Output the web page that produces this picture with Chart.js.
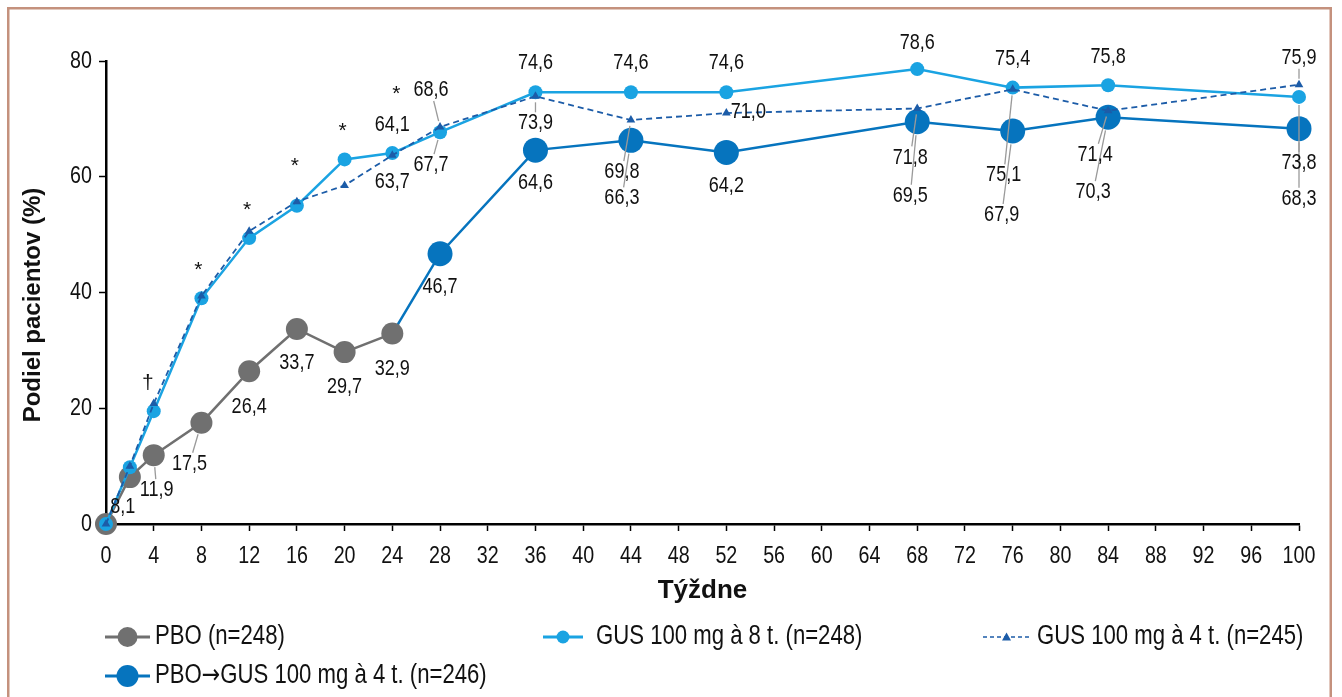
<!DOCTYPE html>
<html lang="sk">
<head>
<meta charset="utf-8">
<title>Podiel pacientov</title>
<script src="https://cdn.jsdelivr.net/npm/chart.js@4.4.1/dist/chart.umd.min.js"></script>
<style>
  html, body { margin: 0; padding: 0; background: #ffffff; }
  #wrap { position: relative; width: 1342px; height: 697px; }
  canvas { display: block; }
</style>
</head>
<body>
<div id="wrap"><canvas id="chart" width="1342" height="697"></canvas></div>
<script>
// ---- data -------------------------------------------------------------
const weekTicks = [0, 4, 8, 12, 16, 20, 24, 28, 32, 36, 40, 44, 48, 52, 56, 60, 64, 68, 72, 76, 80, 84, 88, 92, 96, 100];
const valueTicks = [0, 20, 40, 60, 80];

const pboWeeks = [0, 2, 4, 8, 12, 16, 20, 24];
const pboValues = [0, 8.1, 11.9, 17.5, 26.4, 33.7, 29.7, 32.9];

const switchWeeks = [24, 28, 36, 44, 52, 68, 76, 84, 100];
const switchValues = [32.9, 46.7, 64.6, 66.3, 64.2, 69.5, 67.9, 70.3, 68.3];

const gusWeeks = [0, 2, 4, 8, 12, 16, 20, 24, 28, 36, 44, 52, 68, 76, 84, 100];
const gusQ8Values = [0, 9.8, 19.5, 39.0, 49.4, 55.0, 63.0, 64.1, 67.7, 74.6, 74.6, 74.6, 78.6, 75.4, 75.8, 73.8];
const gusQ4Values = [0, 10.0, 20.8, 39.4, 50.6, 55.7, 58.5, 63.7, 68.6, 73.9, 69.8, 71.0, 71.8, 75.1, 71.4, 75.9];

const seriesNames = ['PBO (n=248)', 'GUS 100 mg à 8 t. (n=248)', 'GUS 100 mg à 4 t. (n=245)', 'PBO\u2192GUS 100 mg à 4 t. (n=246)'];

// significance symbols shown above the q8w curve
const sigWeeks = [4, 8, 12, 16, 20, 24];
const sigSymbols = ['\u2020', '*', '*', '*', '*', '*'];

// ---- look -------------------------------------------------------------
const COL_PBO = '#707070';
const COL_Q8 = '#1aa3e2';
const COL_Q4 = '#1c5ca8';
const COL_SW = '#0674be';
const TEXT = '#111111';
const SANS = "'Liberation Sans', Arial, sans-serif";
const ARROW_FONT = "'DejaVu Sans', sans-serif";
const CONDENSE = 0.82;   // horizontal squeeze giving a narrow face

// where each value label sits relative to its mark (px); leader = thin grey guide line
const labelSpots = [
  { set: 0, i: 1, dx: -7, dy: 30 }, { set: 0, i: 2, dx: 3, dy: 35, leader: true },
  { set: 0, i: 3, dx: -12, dy: 41, leader: true }, { set: 0, i: 4, dx: 0, dy: 36 },
  { set: 0, i: 5, dx: 0, dy: 34 }, { set: 0, i: 6, dx: 0, dy: 35 }, { set: 0, i: 7, dx: 0, dy: 35 },

  { set: 3, i: 1, dx: 0, dy: 33 }, { set: 3, i: 2, dx: 0, dy: 33 },
  { set: 3, i: 3, dx: -9, dy: 58, leader: true }, { set: 3, i: 4, dx: 0, dy: 33 },
  { set: 3, i: 5, dx: -7, dy: 74, leader: true }, { set: 3, i: 6, dx: -11, dy: 84, leader: true },
  { set: 3, i: 7, dx: -15, dy: 75, leader: true }, { set: 3, i: 8, dx: 0, dy: 70, leader: true },

  { set: 1, i: 7, dx: 0, dy: -28 }, { set: 1, i: 8, dx: -9, dy: 33, leader: true },
  { set: 1, i: 9, dx: 0, dy: -29 }, { set: 1, i: 10, dx: 0, dy: -29 }, { set: 1, i: 11, dx: 0, dy: -29 },
  { set: 1, i: 12, dx: 0, dy: -26 }, { set: 1, i: 13, dx: 0, dy: -29 }, { set: 1, i: 14, dx: 0, dy: -28 },
  { set: 1, i: 15, dx: 0, dy: 66, leader: true },

  { set: 2, i: 7, dx: 0, dy: 27 }, { set: 2, i: 8, dx: -9, dy: -37, leader: true },
  { set: 2, i: 9, dx: 0, dy: 27, leader: true }, { set: 2, i: 10, dx: -9, dy: 52, leader: true },
  { set: 2, i: 11, dx: 22, dy: -1 }, { set: 2, i: 12, dx: -7, dy: 49, leader: true },
  { set: 2, i: 13, dx: -9, dy: 86, leader: true }, { set: 2, i: 14, dx: -13, dy: 44, leader: true },
  { set: 2, i: 15, dx: 0, dy: -27, leader: true }
];
// baseline offsets of the significance symbols from the q8w marks
const sigOffsets = [[-6, -22], [-3, -22], [-2, -22], [-2, -34], [-2, -22], [4, -53]];

const toPoints = (xs, ys) => xs.map((x, k) => ({ x: x, y: ys[k] }));
const fmt = v => v.toFixed(1).replace('.', ',');

// text in a narrow face: the normal sans squeezed horizontally around its anchor
function narrowText(ctx, txt, x, y) {
  ctx.save();
  ctx.translate(x, y);
  ctx.scale(CONDENSE, 1);
  ctx.fillText(txt, 0, 0);
  ctx.restore();
}

// left-aligned narrow text whose arrow glyphs come from a face with a full-size arrow
function narrowTextWithArrow(ctx, txt, x, y, size) {
  ctx.save();
  ctx.translate(x, y);
  ctx.scale(CONDENSE, 1);
  ctx.textAlign = 'left';
  let cx = 0;
  txt.split(/(\u2192)/).forEach(part => {
    if (!part) return;
    ctx.font = (part === '\u2192' ? size + 'px ' + ARROW_FONT : size + 'px ' + SANS);
    ctx.fillText(part, cx, 0);
    cx += ctx.measureText(part).width;
  });
  ctx.restore();
}

// frame around the figure
const framePlugin = {
  id: 'frame',
  beforeDraw(chart) {
    const ctx = chart.ctx;
    ctx.save();
    ctx.fillStyle = '#ffffff';
    ctx.fillRect(0, 0, chart.width, chart.height);
    ctx.strokeStyle = '#c4917d';
    ctx.lineWidth = 2.5;
    ctx.strokeRect(8.25, 8.25, 1322.5, 720);
    ctx.restore();
  }
};

// tick labels of both axes
const tickLabelPlugin = {
  id: 'tickLabels',
  afterDraw(chart) {
    const ctx = chart.ctx;
    const xs = chart.scales.x, ys = chart.scales.y;
    ctx.save();
    ctx.fillStyle = TEXT;
    ctx.font = '24px ' + SANS;
    ctx.textBaseline = 'middle';
    ctx.textAlign = 'center';
    weekTicks.forEach(v => narrowText(ctx, String(v), xs.getPixelForValue(v), 556));
    ctx.textAlign = 'right';
    valueTicks.forEach(v => narrowText(ctx, String(v), 92, ys.getPixelForValue(v)));
    ctx.restore();
  }
};

// value labels, leader lines and significance symbols
const labelPlugin = {
  id: 'valueLabels',
  afterDatasetsDraw(chart) {
    const ctx = chart.ctx;
    ctx.save();
    ctx.font = '22px ' + SANS;
    ctx.textAlign = 'center';
    ctx.textBaseline = 'middle';
    labelSpots.forEach(s => {
      const ds = chart.data.datasets[s.set];
      const el = chart.getDatasetMeta(s.set).data[s.i];
      const v = ds.data[s.i].y;
      const px = el.x, py = el.y;
      const tx = px + s.dx, ty = py + s.dy;
      const txt = fmt(v);
      if (s.leader) {
        const w = ctx.measureText(txt).width * CONDENSE / 2 + 2;
        const h = 11;
        const ddx = tx - px, ddy = ty - py;
        const len = Math.hypot(ddx, ddy);
        const ux = ddx / len, uy = ddy / len;
        const r = (ds.pointRadius instanceof Array ? ds.pointRadius[s.i] : ds.pointRadius) + 1;
        const tEdge = Math.min(Math.abs(uy) > 1e-6 ? h / Math.abs(uy) : 1e9, Math.abs(ux) > 1e-6 ? w / Math.abs(ux) : 1e9);
        const sx = px + ux * r, sy = py + uy * r;
        const ex = tx - ux * tEdge, ey = ty - uy * tEdge;
        if (len - tEdge > r + 2) {
          ctx.strokeStyle = '#9a9a9a';
          ctx.lineWidth = 1.3;
          ctx.beginPath();
          ctx.moveTo(sx, sy);
          ctx.lineTo(ex, ey);
          ctx.stroke();
        }
      }
      ctx.fillStyle = TEXT;
      narrowText(ctx, txt, tx, ty);
    });

    ctx.font = '21px ' + SANS;
    ctx.textBaseline = 'alphabetic';
    ctx.fillStyle = TEXT;
    const q8meta = chart.getDatasetMeta(1);
    sigWeeks.forEach((w, k) => {
      const el = q8meta.data[gusWeeks.indexOf(w)];
      ctx.fillText(sigSymbols[k], el.x + sigOffsets[k][0], el.y + sigOffsets[k][1]);
    });
    ctx.restore();
  },
  afterDraw(chart) {
    const ctx = chart.ctx;
    const area = chart.chartArea;
    ctx.save();
    // axis titles
    ctx.fillStyle = TEXT;
    ctx.textAlign = 'center';
    ctx.textBaseline = 'middle';
    ctx.font = 'bold 26px ' + SANS;
    ctx.fillText('Týždne', (area.left + area.right) / 2, 591);
    ctx.font = 'bold 24px ' + SANS;
    ctx.translate(33, 305);
    ctx.rotate(-Math.PI / 2);
    ctx.fillText('Podiel pacientov (%)', 0, 0);
    ctx.restore();

    // legend
    ctx.save();
    const items = [
      { x0: 105, x1: 150, y: 637, col: COL_PBO, r: 10, style: 'circle', dash: [], lw: 3, tx: 155 },
      { x0: 543, x1: 583, y: 637, col: COL_Q8, r: 6.5, style: 'circle', dash: [], lw: 3, tx: 596 },
      { x0: 983, x1: 1030, y: 637, col: COL_Q4, r: 4.5, style: 'triangle', dash: [4, 3], lw: 1.6, tx: 1037 },
      { x0: 105, x1: 150, y: 676, col: COL_SW, r: 11, style: 'circle', dash: [], lw: 3, tx: 155 }
    ];
    items.forEach((it, k) => {
      ctx.strokeStyle = it.col;
      ctx.lineWidth = it.lw;
      ctx.setLineDash(it.dash);
      ctx.beginPath();
      ctx.moveTo(it.x0, it.y);
      ctx.lineTo(it.x1, it.y);
      ctx.stroke();
      ctx.setLineDash([]);
      ctx.fillStyle = it.col;
      const cx = (it.x0 + it.x1) / 2;
      ctx.beginPath();
      if (it.style === 'circle') {
        ctx.arc(cx, it.y, it.r, 0, Math.PI * 2);
      } else {
        ctx.moveTo(cx, it.y - it.r);
        ctx.lineTo(cx + it.r, it.y + it.r * 0.8);
        ctx.lineTo(cx - it.r, it.y + it.r * 0.8);
        ctx.closePath();
      }
      ctx.fill();
      ctx.fillStyle = TEXT;
      ctx.textBaseline = 'middle';
      narrowTextWithArrow(ctx, seriesNames[k], it.tx, it.y, 27);
    });
    ctx.restore();
  }
};

const axisGrid = { drawOnChartArea: false, drawTicks: true, tickLength: 7, tickColor: '#000000', tickWidth: 1.5 };

new Chart(document.getElementById('chart'), {
  type: 'line',
  data: {
    datasets: [
      {
        label: seriesNames[0], data: toPoints(pboWeeks, pboValues),
        borderColor: COL_PBO, backgroundColor: COL_PBO, borderWidth: 2.5,
        pointRadius: 11, pointBorderWidth: 0, pointBackgroundColor: COL_PBO, order: 2, clip: false
      },
      {
        label: seriesNames[1], data: toPoints(gusWeeks, gusQ8Values),
        borderColor: COL_Q8, backgroundColor: COL_Q8, borderWidth: 2.5,
        pointRadius: 7, pointBorderWidth: 0, pointBackgroundColor: COL_Q8, order: 1, clip: false
      },
      {
        label: seriesNames[2], data: toPoints(gusWeeks, gusQ4Values),
        borderColor: COL_Q4, backgroundColor: COL_Q4, borderWidth: 1.8, borderDash: [6, 4],
        pointStyle: 'triangle', pointRadius: 5, pointBorderWidth: 0, pointBackgroundColor: COL_Q4, order: 0, clip: false
      },
      {
        label: seriesNames[3], data: toPoints(switchWeeks, switchValues),
        borderColor: COL_SW, backgroundColor: COL_SW, borderWidth: 2.5,
        pointRadius: switchWeeks.map((w, k) => (k === 0 ? 0 : 12.5)), pointBorderWidth: 0,
        pointBackgroundColor: COL_SW, order: 3, clip: false
      }
    ]
  },
  options: {
    responsive: false,
    animation: false,
    devicePixelRatio: 1,
    layout: { padding: { top: 61, right: 43, left: 0, bottom: 0 } },
    elements: { line: { tension: 0 } },
    plugins: { legend: { display: false }, tooltip: { enabled: false } },
    scales: {
      x: {
        type: 'linear', min: 0, max: 100,
        afterBuildTicks(scale) { scale.ticks = weekTicks.map(v => ({ value: v })); },
        ticks: { display: false },
        grid: axisGrid,
        border: { color: '#000000', width: 2.5 },
        afterFit(scale) { scale.height = 173; }
      },
      y: {
        min: 0, max: 80,
        afterBuildTicks(scale) { scale.ticks = valueTicks.map(v => ({ value: v })); },
        ticks: { display: false },
        grid: axisGrid,
        border: { color: '#000000', width: 2.5 },
        afterFit(scale) { scale.width = 106; }
      }
    }
  },
  plugins: [framePlugin, tickLabelPlugin, labelPlugin]
});
</script>
</body>
</html>
